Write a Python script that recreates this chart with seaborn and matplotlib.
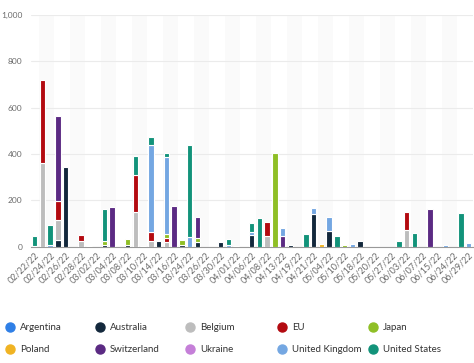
import pandas as pd
import matplotlib
matplotlib.use("Agg")
import matplotlib.pyplot as plt
from matplotlib.ticker import FuncFormatter
import seaborn as sns

sns.set_style("white")
plt.rcParams['font.family'] = ['Lato', 'DejaVu Sans']

# category dates (only every second one is labelled on the axis)
dates = ["02/22/22", "02/23/22", "02/24/22", "02/25/22", "02/26/22", "02/27/22",
         "02/28/22", "03/01/22", "03/02/22", "03/03/22", "03/04/22", "03/07/22",
         "03/08/22", "03/09/22", "03/10/22", "03/11/22", "03/14/22", "03/15/22",
         "03/16/22", "03/17/22", "03/24/22", "03/25/22", "03/26/22", "03/28/22",
         "03/30/22", "03/31/22", "04/01/22", "04/05/22", "04/06/22", "04/07/22",
         "04/08/22", "04/12/22", "04/13/22", "04/14/22", "04/19/22", "04/20/22",
         "04/21/22", "04/27/22", "05/04/22", "05/05/22", "05/10/22", "05/12/22",
         "05/18/22", "05/19/22", "05/20/22", "05/24/22", "05/27/22", "06/01/22",
         "06/03/22", "06/06/22", "06/07/22", "06/10/22", "06/15/22", "06/20/22",
         "06/24/22", "06/28/22", "06/29/22"]

countries = ["Argentina", "Australia", "Belgium", "EU", "Japan",
             "Poland", "Switzerland", "Ukraine", "United Kingdom", "United States"]
colors = ["#2f7fe6", "#13283c", "#bdbdbd", "#b30a10", "#8fbf26",
          "#f0b323", "#5b2a83", "#c57fd8", "#74a7e2", "#12937a"]

argentina = [0] * 57
australia = [0, 0, 0, 30, 346, 0, 0, 0, 0, 6,
             0, 0, 10, 0, 0, 0, 25, 0, 0, 6,
             0, 20, 0, 0, 20, 0, 0, 0, 53, 0,
             0, 0, 0, 10, 0, 0, 140, 0, 69, 0,
             0, 0, 24, 0, 0, 0, 0, 0, 0, 0,
             0, 0, 0, 0, 0, 0, 0]
belgium = [0, 360, 0, 86, 0, 0, 25, 0, 0, 0,
           0, 0, 0, 150, 0, 27, 0, 20, 0, 0,
           0, 0, 0, 0, 0, 0, 0, 0, 0, 0,
           47, 0, 0, 0, 0, 0, 0, 0, 0, 0,
           0, 0, 0, 0, 0, 0, 0, 0, 73, 0,
           0, 0, 0, 0, 0, 0, 0]
eu = [0, 360, 0, 82, 0, 0, 25, 0, 0, 0,
      0, 0, 0, 160, 0, 36, 0, 20, 0, 0,
      0, 0, 0, 0, 0, 0, 0, 0, 0, 0,
      62, 0, 0, 0, 0, 0, 0, 0, 0, 0,
      0, 0, 0, 0, 0, 0, 0, 0, 77, 0,
      0, 0, 0, 0, 0, 0, 0]
japan = [0, 0, 0, 0, 0, 0, 0, 4, 0, 20,
         0, 0, 22, 0, 0, 0, 0, 16, 0, 24,
         0, 20, 0, 0, 0, 0, 3, 0, 0, 0,
         0, 404, 0, 0, 0, 0, 0, 0, 0, 0,
         8, 0, 0, 0, 0, 0, 0, 0, 0, 0,
         0, 0, 0, 0, 0, 0, 0]
poland = [0, 0, 0, 0, 0, 0, 0, 0, 0, 0,
          0, 0, 0, 0, 0, 0, 0, 0, 0, 0,
          0, 0, 0, 0, 0, 0, 0, 0, 0, 0,
          0, 0, 0, 0, 0, 0, 0, 12, 0, 0,
          0, 0, 0, 0, 0, 0, 0, 0, 0, 0,
          0, 0, 0, 0, 0, 0, 0]
switzerland = [0, 0, 0, 364, 0, 0, 0, 0, 0, 0,
               170, 0, 0, 0, 0, 0, 0, 0, 174, 0,
               0, 90, 0, 0, 0, 0, 0, 0, 0, 0,
               0, 0, 47, 0, 0, 0, 0, 0, 0, 0,
               0, 0, 0, 0, 0, 0, 0, 0, 0, 0,
               0, 164, 0, 0, 0, 0, 0]
ukraine = [0] * 57
uk = [5, 0, 10, 0, 0, 0, 0, 0, 0, 0,
      0, 0, 0, 0, 4, 374, 0, 333, 0, 0,
      44, 0, 0, 0, 0, 10, 0, 0, 10, 0,
      0, 0, 33, 0, 0, 0, 27, 0, 60, 0,
      0, 12, 0, 0, 0, 0, 0, 0, 0, 0,
      0, 0, 0, 6, 0, 0, 15]
us = [40, 0, 82, 0, 0, 0, 0, 0, 0, 135,
      0, 0, 0, 80, 0, 38, 0, 17, 0, 0,
      393, 0, 0, 0, 0, 22, 0, 0, 40, 126,
      0, 0, 0, 0, 0, 55, 0, 0, 0, 47,
      0, 0, 0, 0, 0, 0, 0, 24, 0, 60,
      0, 0, 0, 0, 0, 148, 0]

series = [argentina, australia, belgium, eu, japan,
          poland, switzerland, ukraine, uk, us]

rows = []
for name, vals in zip(countries, series):
    for i, v in enumerate(vals):
        rows.append({"pos": i, "date": dates[i], "country": name, "value": v})
df = pd.DataFrame(rows)

fig = plt.figure(figsize=(4.74, 3.63), dpi=100)
ax = fig.add_axes([0.065, 0.32, 0.932, 0.639])

# faint alternating bands
for start in range(1, len(dates), 4):
    ax.axvspan(start - 0.5, start + 1.5, color="#fafafa", zorder=0, lw=0)

sns.histplot(data=df, x="pos", weights="value", hue="country",
             hue_order=countries[::-1], palette=dict(zip(countries, colors)),
             multiple="stack", discrete=True, shrink=0.72, alpha=1,
             edgecolor="white", linewidth=0.8, legend=False, ax=ax, zorder=3)

# drop empty segments so they leave no white caps
for p in list(ax.patches):
    if p.get_height() == 0:
        p.remove()

ax.set_xlim(-0.5, len(dates) - 0.5)
ax.set_ylim(0, 1000)
ax.set_yticks([0, 200, 400, 600, 800, 1000])
ax.yaxis.set_major_formatter(FuncFormatter(lambda v, _: f"{v:,.0f}"))
ax.grid(axis="y", color="#ebebeb", lw=0.8, zorder=1)
ax.set_axisbelow(True)
ax.set_xticks(range(0, len(dates), 2))
ax.set_xticklabels(dates[::2], rotation=45, ha="right", rotation_mode="anchor")
ax.tick_params(axis="x", labelsize=6.5, colors="#6b6b6b", length=0, pad=3)
ax.tick_params(axis="y", labelsize=6, colors="#6b6b6b", length=0, pad=6)
ax.set_xlabel("")
ax.set_ylabel("")
sns.despine(ax=ax, left=True)
ax.spines["bottom"].set_color("#999999")
ax.spines["bottom"].set_linewidth(0.8)

# legend below the chart, 2 rows x 5 columns
leg_x = [10, 100, 190, 282, 373]
leg_y = [327, 349]
for k, (name, c) in enumerate(zip(countries, colors)):
    px = leg_x[k % 5] / 474
    py = 1 - leg_y[k // 5] / 363
    fig.add_artist(plt.Line2D([px], [py], marker="o", markersize=6.5,
                              color=c, lw=0, transform=fig.transFigure))
    fig.text(px + 10 / 474, py, name, fontsize=7, color="#333333",
             va="center", ha="left")

fig.savefig("out.png", dpi=100)
